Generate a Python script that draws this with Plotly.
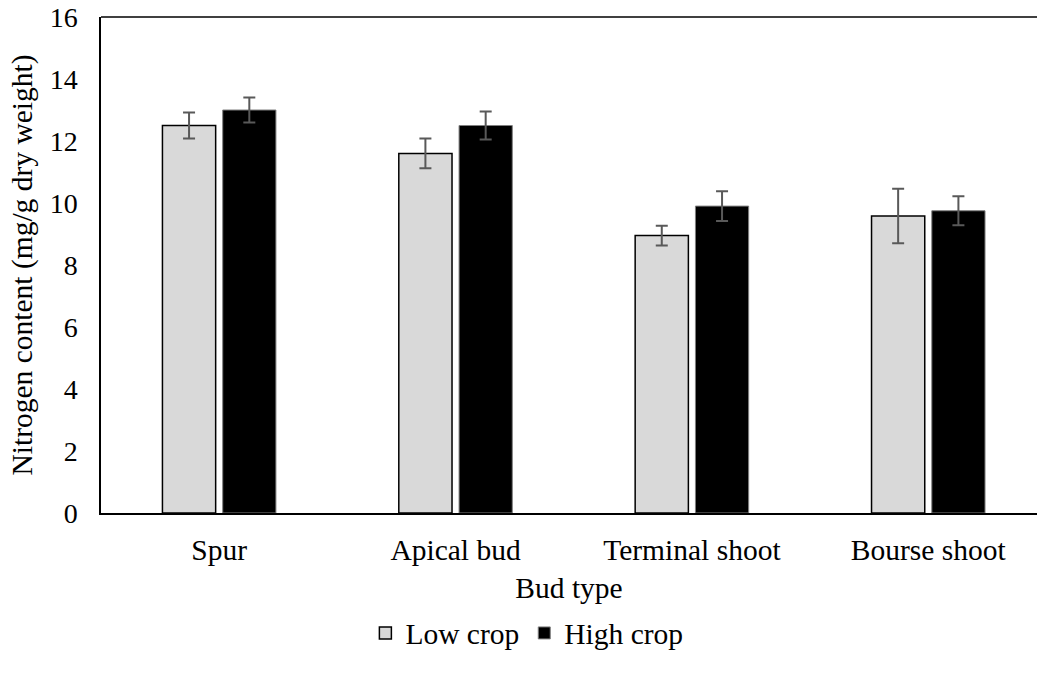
import plotly.graph_objects as go

categories = ["Spur", "Apical bud", "Terminal shoot", "Bourse shoot"]
low_crop = [12.5, 11.6, 8.95, 9.58]
low_err = [0.42, 0.48, 0.32, 0.88]
high_crop = [13.0, 12.5, 9.9, 9.75]
high_err = [0.4, 0.45, 0.48, 0.47]
y_ticks = [0, 2, 4, 6, 8, 10, 12, 14, 16]

FONT = "Liberation Serif, Times New Roman, serif"
FS = 29.5

fig = go.Figure()
fig.add_trace(go.Bar(
    name="Low crop", x=categories, y=low_crop,
    marker=dict(color="#d9d9d9", line=dict(color="#000000", width=1.5)),
    error_y=dict(type="data", array=low_err, color="#595959", thickness=2, width=6),
))
fig.add_trace(go.Bar(
    name="High crop", x=categories, y=high_crop,
    marker=dict(color="#000000", line=dict(color="#7f7f7f", width=1)),
    error_y=dict(type="data", array=high_err, color="#595959", thickness=2, width=6),
))

fig.update_layout(
    width=1038, height=681,
    margin=dict(l=101, r=1, t=17, b=168),
    paper_bgcolor="white", plot_bgcolor="white",
    font=dict(family=FONT, size=FS, color="black"),
    barmode="group", bargap=0.49, bargroupgap=0.117,
    showlegend=True,
    legend=dict(orientation="h", x=0.455, xanchor="center", y=-0.19, yanchor="top",
                font=dict(family=FONT, size=FS), itemwidth=30, traceorder="normal"),
    xaxis=dict(
        title=dict(text="Bud type", font=dict(family=FONT, size=FS), standoff=12),
        range=[-0.5, 3.46], showline=True, linecolor="black", linewidth=1.5,
        mirror=False, ticks="outside", ticklen=10, tickcolor="rgba(0,0,0,0)",
        tickfont=dict(family=FONT, size=FS),
    ),
    yaxis=dict(
        title=dict(text="Nitrogen content (mg/g dry weight)", font=dict(family=FONT, size=FS), standoff=8),
        range=[0, 16], tickvals=y_ticks, showline=True, linecolor="black", linewidth=1.5,
        showgrid=False, zeroline=False, ticks="outside", ticklen=16, tickcolor="rgba(0,0,0,0)",
        tickfont=dict(family=FONT, size=28),
    ),
)
fig.add_shape(type="line", xref="paper", yref="paper", x0=0, x1=1, y0=1, y1=1,
              line=dict(color="black", width=1.5))

fig.write_html(
    "out.html",
    config={"displayModeBar": False},
    post_script="document.body.style.margin='0';document.body.style.overflow='hidden';"
                "Plotly.relayout(document.getElementById('{plot_id}'), {width:1038, height:681});",
)
